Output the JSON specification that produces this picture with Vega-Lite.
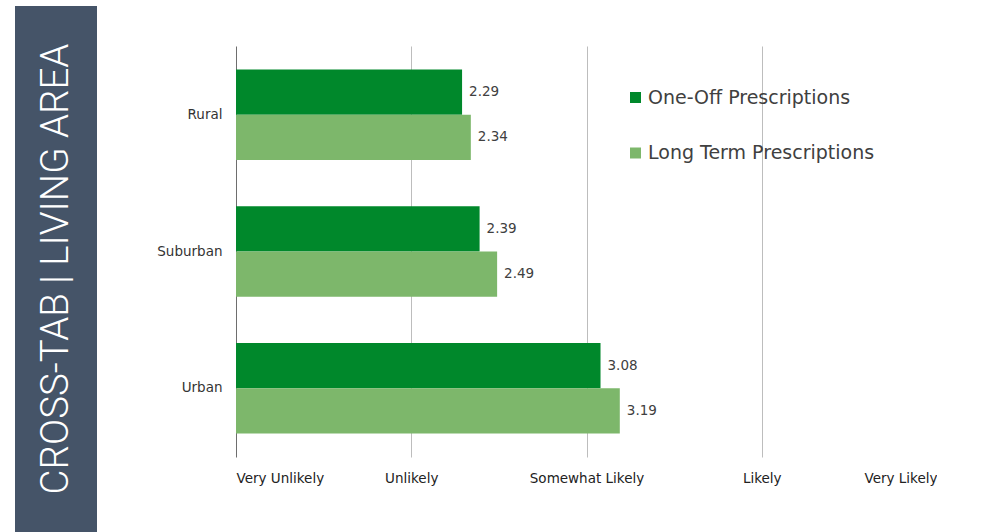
{
  "$schema": "https://vega.github.io/schema/vega-lite/v6.json",
  "background": "white",
  "padding": {"left": 15, "top": 6, "right": 0, "bottom": 0},
  "config": {"view": {"stroke": null}, "font": "DejaVu Sans"},
  "spacing": 59,
  "hconcat": [
    {
      "width": 82,
      "height": 526,
      "view": {"fill": "#455468", "stroke": null},
      "data": {"values": [{"label": "CROSS-TAB | LIVING AREA"}]},
      "mark": {"type": "text", "angle": 270, "font": "Roboto", "fontWeight": 300, "fontSize": 38.5, "color": "#ffffff", "align": "center", "baseline": "middle"},
      "encoding": {"text": {"field": "label"}}
    },
    {
      "spacing": 39,
      "vconcat": [
        {
          "width": 701,
          "height": 1,
          "data": {"values": []},
          "mark": {"type": "point", "opacity": 0}
        },
        {
          "width": 701,
          "height": 411,
          "data": {"values": [
            {"area": "Rural", "series": "One-Off Prescriptions", "value": 2.29},
            {"area": "Rural", "series": "Long Term Prescriptions", "value": 2.34},
            {"area": "Suburban", "series": "One-Off Prescriptions", "value": 2.39},
            {"area": "Suburban", "series": "Long Term Prescriptions", "value": 2.49},
            {"area": "Urban", "series": "One-Off Prescriptions", "value": 3.08},
            {"area": "Urban", "series": "Long Term Prescriptions", "value": 3.19}
          ]},
          "encoding": {
            "y": {"field": "area", "type": "nominal", "sort": ["Rural", "Suburban", "Urban"],
              "scale": {"paddingInner": 0.337, "paddingOuter": 0.171},
              "axis": {"title": null, "ticks": false, "domain": false, "labelFontSize": 13.5, "labelColor": "#333333", "labelPadding": 14}},
            "yOffset": {"field": "series", "sort": ["One-Off Prescriptions", "Long Term Prescriptions"], "scale": {"paddingInner": 0, "paddingOuter": 0}},
            "x": {"field": "value", "type": "quantitative",
              "scale": {"domain": [1, 5], "zero": false, "nice": false},
              "axis": {"title": null, "values": [1, 2, 3, 4, 5], "ticks": false, "domain": false, "grid": true,
                "gridColor": {"condition": {"test": "datum.value === 1", "value": "#6e6e6e"}, "value": "#bdbdbd"},
                "labelExpr": "['', 'Very Unlikely', 'Unlikely', 'Somewhat Likely', 'Likely', 'Very Likely'][datum.value]",
                "labelFontSize": 13.5, "labelColor": "#222222", "labelPadding": 14}}
          },
          "layer": [
            {
              "mark": {"type": "bar"},
              "encoding": {
                "x2": {"datum": 1},
                "color": {"field": "series", "type": "nominal",
                  "scale": {"domain": ["One-Off Prescriptions", "Long Term Prescriptions"], "range": ["#00882b", "#7db76b"]},
                  "legend": {"orient": "none", "legendX": 611, "legendY": 82, "padding": 0, "title": null, "symbolType": "square", "symbolSize": 121, "symbolOpacity": 1, "labelFontSize": 19, "labelColor": "#404040", "labelLimit": 400, "rowPadding": 35.5, "labelOffset": 3}}
              }
            },
            {
              "mark": {"type": "text", "align": "left", "dx": 7, "fontSize": 13.5, "color": "#404040"},
              "encoding": {"text": {"field": "value", "type": "quantitative", "format": ".2f"}}
            }
          ]
        }
      ]
    }
  ]
}
